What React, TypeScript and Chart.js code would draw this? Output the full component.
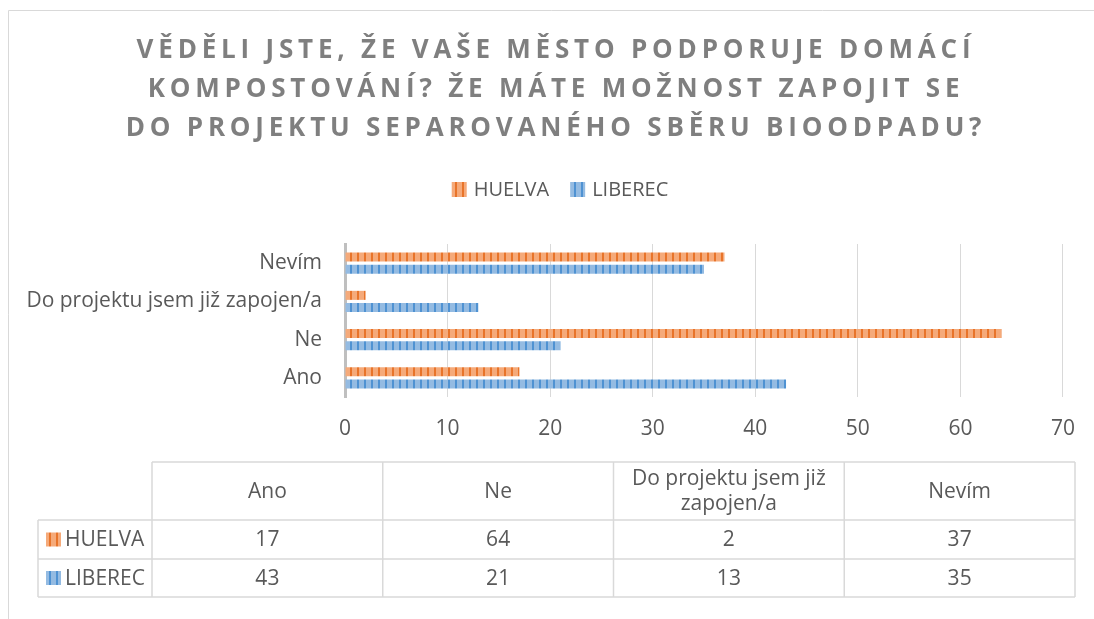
import React, { useEffect, useRef } from 'react';
import { Chart, registerables } from 'chart.js';

Chart.register(...registerables);

const titleLines = [
  'VĚDĚLI JSTE, ŽE VAŠE MĚSTO PODPORUJE DOMÁCÍ',
  'KOMPOSTOVÁNÍ? ŽE MÁTE MOŽNOST ZAPOJIT SE',
  'DO PROJEKTU SEPAROVANÉHO SBĚRU BIOODPADU?',
];
const categories = ['Ano', 'Ne', 'Do projektu jsem již zapojen/a', 'Nevím'];
const seriesNames = ['HUELVA', 'LIBEREC'];
const huelva = [17, 64, 2, 37];
const liberec = [43, 21, 13, 35];
const xMin = 0;
const xMax = 70;
const xStep = 10;

const FONT = '"Open Sans", "DejaVu Sans", sans-serif';
const TEXT = '#595959';
const LINE = '#d9d9d9';
const colors = [
  { light: '#f5aa7a', dark: '#e8742a' },
  { light: '#94bbe2', dark: '#4f92d2' },
];

function makePattern(light: string, dark: string): CanvasPattern | string {
  const c = document.createElement('canvas');
  c.width = 7;
  c.height = 4;
  const x = c.getContext('2d');
  if (!x) return dark;
  x.fillStyle = light;
  x.fillRect(0, 0, 7, 4);
  x.fillStyle = dark;
  x.fillRect(0, 0, 2, 4);
  return x.createPattern(c, 'repeat') || dark;
}

function wrap(ctx: CanvasRenderingContext2D, text: string, maxW: number): string[] {
  const words = text.split(' ');
  const lines: string[] = [];
  let cur = '';
  for (const w of words) {
    const t = cur ? cur + ' ' + w : w;
    if (ctx.measureText(t).width > maxW && cur) {
      lines.push(cur);
      cur = w;
    } else cur = t;
  }
  if (cur) lines.push(cur);
  return lines;
}

export default function App() {
  const ref = useRef<HTMLCanvasElement | null>(null);

  useEffect(() => {
    const canvas = ref.current;
    if (!canvas) return;
    const patterns = colors.map((c) => makePattern(c.light, c.dark));

    const decor = {
      id: 'decor',
      afterDraw(chart: any) {
        const ctx: CanvasRenderingContext2D = chart.ctx;
        ctx.save();
        // outer border
        ctx.strokeStyle = LINE;
        ctx.lineWidth = 1;
        ctx.beginPath();
        ctx.moveTo(8.5, 619);
        ctx.lineTo(8.5, 10.5);
        ctx.lineTo(1094, 10.5);
        ctx.stroke();

        // title
        ctx.fillStyle = '#7f7f7f';
        ctx.font = `bold 26px ${FONT}`;
        (ctx as any).letterSpacing = '4.8px';
        ctx.textAlign = 'center';
        ctx.textBaseline = 'middle';
        titleLines.forEach((l, i) => ctx.fillText(l, 556, 51 + i * 39));
        (ctx as any).letterSpacing = '0px';

        // legend
        ctx.font = `20px ${FONT}`;
        ctx.textAlign = 'left';
        const w0 = ctx.measureText(seriesNames[0]).width;
        const w1 = ctx.measureText(seriesNames[1]).width;
        const total = 15 + 7 + w0 + 21 + 15 + 7 + w1;
        let lx = 560 - total / 2;
        seriesNames.forEach((n, i) => {
          ctx.fillStyle = patterns[i] as any;
          ctx.fillRect(lx, 182, 15, 15);
          ctx.fillStyle = TEXT;
          ctx.fillText(n, lx + 22, 190);
          lx += 22 + (i === 0 ? w0 : w1) + 21;
        });

        // data table
        const tTop = 462, hBot = 520, r1 = 559, r2 = 597;
        const left = 38, c0 = 152, right = 1075;
        const colW = (right - c0) / categories.length;
        ctx.strokeStyle = LINE;
        ctx.lineWidth = 1.5;
        ctx.beginPath();
        ctx.moveTo(c0, tTop); ctx.lineTo(right, tTop);
        ctx.moveTo(left, hBot); ctx.lineTo(right, hBot);
        ctx.moveTo(left, r1); ctx.lineTo(right, r1);
        ctx.moveTo(left, r2); ctx.lineTo(right, r2);
        ctx.moveTo(left, hBot); ctx.lineTo(left, r2);
        for (let i = 0; i <= categories.length; i++) {
          const x = c0 + i * colW;
          ctx.moveTo(x, tTop); ctx.lineTo(x, r2);
        }
        ctx.stroke();

        ctx.fillStyle = TEXT;
        ctx.font = `21px ${FONT}`;
        ctx.textAlign = 'center';
        categories.forEach((c, i) => {
          const cx = c0 + (i + 0.5) * colW;
          const lines = wrap(ctx, c, colW - 16);
          const lh = 25;
          const y0 = (tTop + hBot) / 2 + 1 - ((lines.length - 1) * lh) / 2;
          lines.forEach((l, k) => ctx.fillText(l, cx, y0 + k * lh));
          ctx.fillText(String(huelva[i]), cx, (hBot + r1) / 2 + 1);
          ctx.fillText(String(liberec[i]), cx, (r1 + r2) / 2 + 1);
        });
        const rowC = [(hBot + r1) / 2, (r1 + r2) / 2];
        seriesNames.forEach((n, i) => {
          ctx.fillStyle = patterns[i] as any;
          ctx.fillRect(46, rowC[i] - 7, 15, 14);
          ctx.fillStyle = TEXT;
          ctx.textAlign = 'left';
          ctx.fillText(n, 65, rowC[i] + 1);
        });
        ctx.restore();
      },
    };

    const labels = [...categories].reverse();
    const chart = new Chart(canvas, {
      type: 'bar',
      data: {
        labels,
        datasets: [
          {
            label: seriesNames[0],
            data: [...huelva].reverse(),
            backgroundColor: patterns[0] as any,
            borderWidth: 0,
          },
          {
            label: seriesNames[1],
            data: [...liberec].reverse(),
            backgroundColor: patterns[1] as any,
            borderWidth: 0,
          },
        ],
      },
      options: {
        indexAxis: 'y',
        responsive: false,
        animation: false,
        events: [],
        datasets: { bar: { categoryPercentage: 0.63, barPercentage: 0.75 } },
        layout: { padding: { top: 244, bottom: 182, left: 0, right: 31 } },
        plugins: {
          legend: { display: false },
          title: { display: false },
          tooltip: { enabled: false },
        },
        scales: {
          x: {
            min: xMin,
            max: xMax,
            ticks: { stepSize: xStep, color: TEXT, font: { family: FONT, size: 21 }, padding: 19 },
            grid: { color: LINE, lineWidth: 1, drawTicks: false },
            border: { display: false },
            afterFit: (s: any) => { s.height = 40; },
          },
          y: {
            ticks: { color: TEXT, font: { family: FONT, size: 21 }, padding: 23 },
            grid: { display: false, drawTicks: false },
            border: { display: true, color: '#bfbfbf', width: 3 },
            afterFit: (s: any) => { s.width = 345; },
          },
        },
      },
      plugins: [decor],
    });
    return () => chart.destroy();
  }, []);

  return (
    <div style={{ position: 'absolute', left: 0, top: 0, width: 1094, height: 619, background: '#fff' }}>
      <canvas ref={ref} width={1094} height={619} style={{ width: 1094, height: 619, display: 'block' }} />
    </div>
  );
}
